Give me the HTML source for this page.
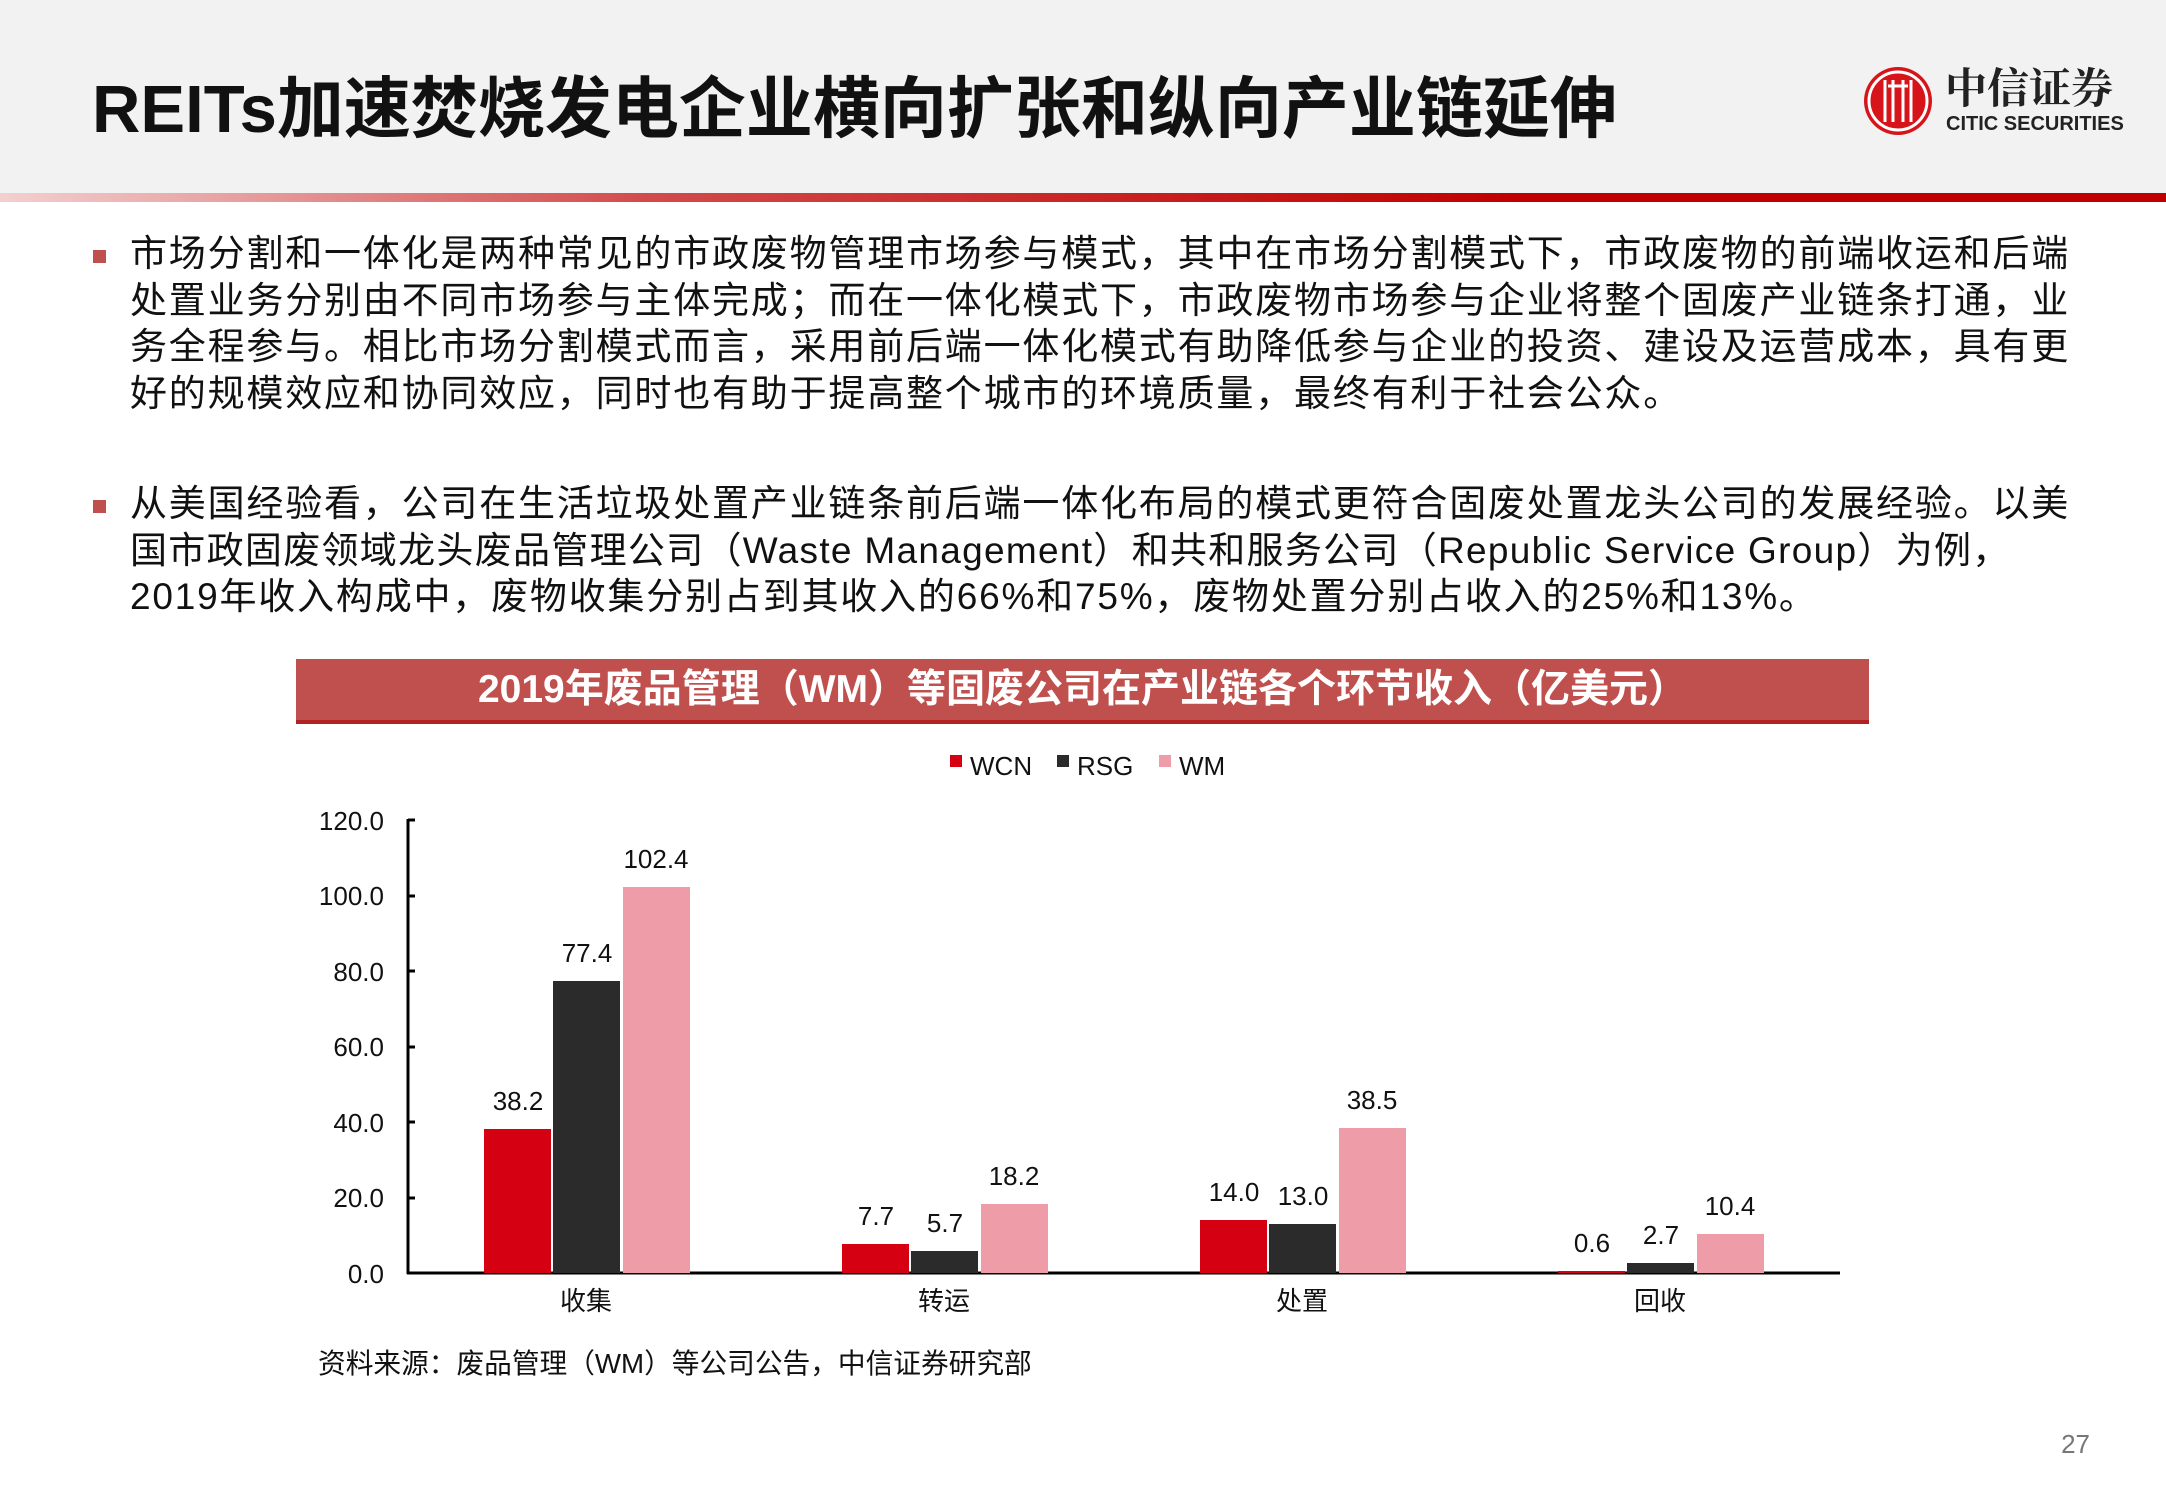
<!DOCTYPE html>
<html><head><meta charset="utf-8"><style>
body{margin:0;width:2166px;height:1500px;background:#fff;position:relative;overflow:hidden;font-family:"Liberation Sans","Noto Sans CJK SC",sans-serif;}
.hdr{position:absolute;left:0;top:0;width:2166px;height:193px;background:#f2f2f2;}
.bar{position:absolute;left:0;top:193px;width:2166px;height:9px;background:linear-gradient(90deg,#f3d0d0 0%,#d24a4a 30%,#c00000 70%,#c00000 100%);}
.title{position:absolute;left:92px;top:76px;font-size:67px;font-weight:bold;color:#111;white-space:nowrap;line-height:1;}
.p{position:absolute;left:130px;font-size:37px;color:#111;white-space:nowrap;line-height:46.5px;letter-spacing:1.8px;}
.bul{position:absolute;left:93px;width:13px;height:13px;background:#c0504d;}
.banner{position:absolute;left:296px;top:659px;width:1573px;height:61px;background:#c0504d;border-bottom:4px solid #b22222;color:#fff;font-weight:bold;font-size:39px;text-align:center;line-height:61px;}
</style></head><body>
<div class="hdr"></div><div class="bar"></div>
<div class="title">REITs加速焚烧发电企业横向扩张和纵向产业链延伸</div>
<svg style="position:absolute;left:0;top:0" width="2166" height="210">
<circle cx="1898" cy="101" r="34" fill="#d7141a"/>
<circle cx="1898" cy="101" r="29" fill="none" stroke="#fff" stroke-width="3"/>
<g stroke="#fff" stroke-width="3" fill="none"><path d="M1885 80 v42 M1893 80 v42 M1903 80 v42 M1911 80 v42 M1888 86 h20"/></g>
<text x="1945" y="103" font-family="Noto Serif CJK SC,serif" font-weight="bold" font-size="42" fill="#222">中信证券</text>
<text x="1946" y="130" font-family="Liberation Sans,sans-serif" font-size="20" font-weight="bold" fill="#222">CITIC SECURITIES</text>
</svg>
<div class="bul" style="top:250px"></div>
<div class="p" style="top:231px">市场分割和一体化是两种常见的市政废物管理市场参与模式，其中在市场分割模式下，市政废物的前端收运和后端<br>处置业务分别由不同市场参与主体完成；而在一体化模式下，市政废物市场参与企业将整个固废产业链条打通，业<br>务全程参与。相比市场分割模式而言，采用前后端一体化模式有助降低参与企业的投资、建设及运营成本，具有更<br>好的规模效应和协同效应，同时也有助于提高整个城市的环境质量，最终有利于社会公众。</div>
<div class="bul" style="top:500px"></div>
<div class="p" style="top:481px">从美国经验看，公司在生活垃圾处置产业链条前后端一体化布局的模式更符合固废处置龙头公司的发展经验。以美<br><span style="letter-spacing:1.3px">国市政固废领域龙头废品管理公司（Waste Management）和共和服务公司（Republic Service Group）为例，</span><br>2019年收入构成中，废物收集分别占到其收入的66%和75%，废物处置分别占收入的25%和13%。</div>
<div class="banner">2019年废品管理（WM）等固废公司在产业链各个环节收入（亿美元）</div>
<svg style="position:absolute;left:0;top:0" width="2166" height="1500" font-family="Liberation Sans,Noto Sans CJK SC,sans-serif" font-size="26" fill="#111">
<rect x="950" y="755" width="12" height="12" fill="#d50012"/><text x="970" y="775">WCN</text>
<rect x="1057" y="755" width="12" height="12" fill="#2b2b2b"/><text x="1077" y="775">RSG</text>
<rect x="1159" y="755" width="12" height="12" fill="#ee9ca7"/><text x="1179" y="775">WM</text>
<g text-anchor="end">
<text x="384" y="830">120.0</text><text x="384" y="905">100.0</text><text x="384" y="981">80.0</text><text x="384" y="1056">60.0</text><text x="384" y="1132">40.0</text><text x="384" y="1207">20.0</text><text x="384" y="1283">0.0</text></g>
<g stroke="#000" stroke-width="3"><line x1="408" y1="819" x2="408" y2="1274"/><line x1="407" y1="1273" x2="1840" y2="1273"/>
<line x1="408" y1="820" x2="415" y2="820"/><line x1="408" y1="896" x2="415" y2="896"/><line x1="408" y1="971" x2="415" y2="971"/><line x1="408" y1="1047" x2="415" y2="1047"/><line x1="408" y1="1122" x2="415" y2="1122"/><line x1="408" y1="1198" x2="415" y2="1198"/></g>
<g>
<rect x="484" y="1129" width="67" height="144" fill="#d50012"/><rect x="553" y="981" width="67" height="292" fill="#2b2b2b"/><rect x="623" y="887" width="67" height="386" fill="#ee9ca7"/>
<rect x="842" y="1244" width="67" height="29" fill="#d50012"/><rect x="911" y="1251" width="67" height="22" fill="#2b2b2b"/><rect x="981" y="1204" width="67" height="69" fill="#ee9ca7"/>
<rect x="1200" y="1220" width="67" height="53" fill="#d50012"/><rect x="1269" y="1224" width="67" height="49" fill="#2b2b2b"/><rect x="1339" y="1128" width="67" height="145" fill="#ee9ca7"/>
<rect x="1558" y="1271" width="67" height="2" fill="#d50012"/><rect x="1627" y="1263" width="67" height="10" fill="#2b2b2b"/><rect x="1697" y="1234" width="67" height="39" fill="#ee9ca7"/>
</g>
<g text-anchor="middle">
<text x="518" y="1110">38.2</text><text x="587" y="962">77.4</text><text x="656" y="868">102.4</text>
<text x="876" y="1225">7.7</text><text x="945" y="1232">5.7</text><text x="1014" y="1185">18.2</text>
<text x="1234" y="1201">14.0</text><text x="1303" y="1205">13.0</text><text x="1372" y="1109">38.5</text>
<text x="1592" y="1252">0.6</text><text x="1661" y="1244">2.7</text><text x="1730" y="1215">10.4</text>
<text x="586" y="1310">收集</text><text x="944" y="1310">转运</text><text x="1302" y="1310">处置</text><text x="1660" y="1310">回收</text>
</g>
<text x="318" y="1373" font-size="27.7">资料来源：废品管理（WM）等公司公告，中信证券研究部</text>
<text x="2090" y="1453" text-anchor="end" fill="#777" font-size="26">27</text>
</svg>
</body></html>
